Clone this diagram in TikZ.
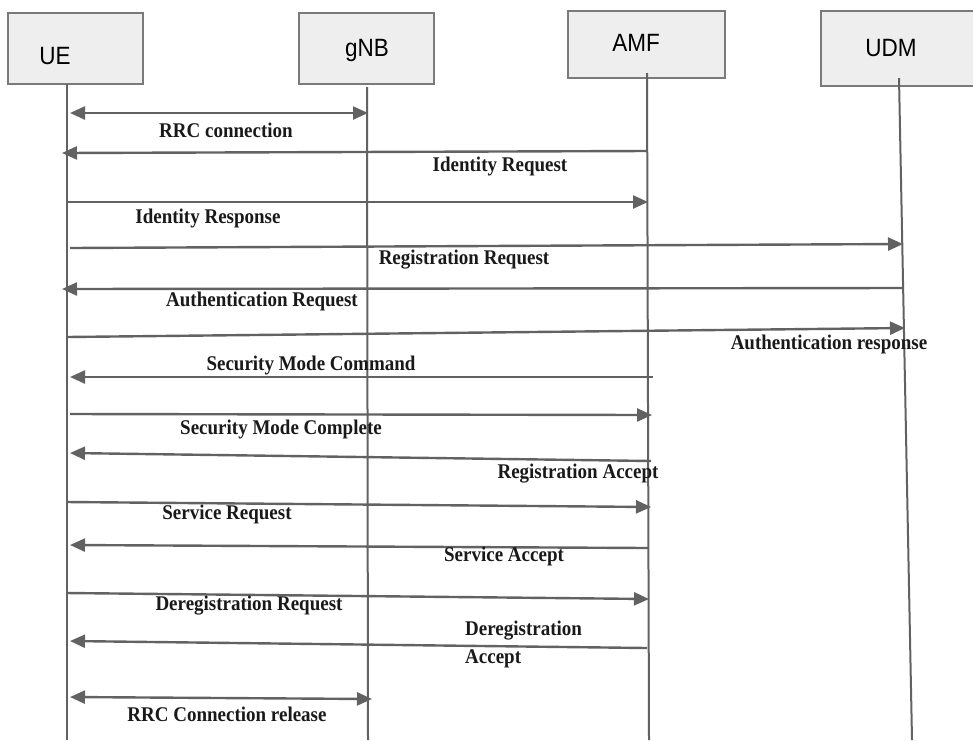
\documentclass[tikz,border=0pt]{standalone}
\usepackage{fontspec}
\setmainfont{Liberation Serif}
\newfontfamily\hdrfont{Liberation Sans}
\usetikzlibrary{arrows.meta}
\definecolor{linegray}{HTML}{626262}
\definecolor{boxfill}{HTML}{EEEEEE}
\definecolor{boxdraw}{HTML}{7A7A7A}
\tikzset{
  entity/.style={draw=boxdraw, fill=boxfill, line width=1.4pt, inner sep=0pt},
  hdr/.style={font=\hdrfont\fontsize{25}{25}\selectfont, xscale=0.9, inner sep=0pt},
  lifeline/.style={draw=linegray, line width=2pt},
  msg/.style={draw=linegray, line width=2.4pt, -{Triangle[length=15pt,width=13pt]}},
  dmsg/.style={draw=linegray, line width=2.4pt, {Triangle[length=15pt,width=13pt]}-{Triangle[length=15pt,width=13pt]}},
  lbl/.style={font=\bfseries\fontsize{19}{21}\selectfont, yscale=1.1, inner sep=0pt, text=black!90},
}
\begin{document}
\begin{tikzpicture}[x=1pt,y=-1pt]
\useasboundingbox (0,0) rectangle (973,740);
% entity boxes
\node[entity, minimum width=135pt, minimum height=71pt] (ue) at (75.5,48.5) {};
\node[entity, minimum width=135pt, minimum height=71pt] (gnb) at (366.5,48.5) {};
\node[entity, minimum width=157pt, minimum height=67pt] (amf) at (646.5,44.5) {};
\node[entity, minimum width=160pt, minimum height=75pt] (udm) at (901,48.5) {};
\node[hdr] (uet) at (55,56) {UE};
\node[hdr] (gnbt) at (367,50) {gNB};
\node[hdr] (amft) at (636,43) {AMF};
\node[hdr] (udmt) at (891,48) {UDM};
% lifelines
\coordinate (ueT) at (67,84);   \coordinate (ueB) at (67,740);
\coordinate (gnbT) at (367,87); \coordinate (gnbB) at (368,740);
\coordinate (amfT) at (647,73); \coordinate (amfB) at (649,740);
\coordinate (udmT) at (899,78); \coordinate (udmB) at (912,740);
\draw[lifeline] (ueT) -- (ueB);
\draw[lifeline] (gnbT) -- (gnbB);
\draw[lifeline] (amfT) -- (amfB);
\draw[lifeline] (udmT) -- (udmB);
% message end points
\coordinate (m1a) at (70,113);  \coordinate (m1b) at (368,113);
\coordinate (m2a) at (647,151); \coordinate (m2b) at (62,153);
\coordinate (m3a) at (67,202);  \coordinate (m3b) at (648,202);
\coordinate (m4a) at (70,248);  \coordinate (m4b) at (903,244);
\coordinate (m5a) at (903,288); \coordinate (m5b) at (62,289);
\coordinate (m6a) at (67,337);  \coordinate (m6b) at (905,328);
\coordinate (m7a) at (653,377); \coordinate (m7b) at (70,377);
\coordinate (m8a) at (70,414);  \coordinate (m8b) at (652,415);
\coordinate (m9a) at (651,461); \coordinate (m9b) at (70,453);
\coordinate (m10a) at (67,502); \coordinate (m10b) at (651,507);
\coordinate (m11a) at (648,548); \coordinate (m11b) at (70,545);
\coordinate (m12a) at (67,593); \coordinate (m12b) at (649,599);
\coordinate (m13a) at (647,648); \coordinate (m13b) at (70,641);
\coordinate (m14a) at (70,697); \coordinate (m14b) at (372,699);
\draw[dmsg] (m1a) -- (m1b);
\draw[msg] (m2a) -- (m2b);
\draw[msg] (m3a) -- (m3b);
\draw[msg] (m4a) -- (m4b);
\draw[msg] (m5a) -- (m5b);
\draw[msg] (m6a) -- (m6b);
\draw[msg] (m7a) -- (m7b);
\draw[msg] (m8a) -- (m8b);
\draw[msg] (m9a) -- (m9b);
\draw[msg] (m10a) -- (m10b);
\draw[msg] (m11a) -- (m11b);
\draw[msg] (m12a) -- (m12b);
\draw[msg] (m13a) -- (m13b);
\draw[dmsg] (m14a) -- (m14b);
% labels
\node[lbl] (l1) at (226,130) {RRC connection};
\node[lbl] (l2) at (500,166) {Identity Request};
\node[lbl] (l3) at (208,218) {Identity Response};
\node[lbl] (l4) at (464,260) {Registration Request};
\node[lbl] (l5) at (262,301) {Authentication Request};
\node[lbl] (l6) at (829,344) {Authentication response};
\node[lbl] (l7) at (311,365) {Security Mode Command};
\node[lbl] (l8) at (281,429) {Security Mode Complete};
\node[lbl] (l9) at (578,474) {Registration Accept};
\node[lbl] (l10) at (227,514) {Service Request};
\node[lbl] (l11) at (504,556) {Service Accept};
\node[lbl] (l12) at (249,606) {Deregistration Request};
\node[lbl, anchor=west] (l13a) at (465,631) {Deregistration};
\node[lbl, anchor=west] (l13b) at (465,659) {Accept};
\node[lbl] (l14) at (227,714) {RRC Connection release};
\end{tikzpicture}
\end{document}
